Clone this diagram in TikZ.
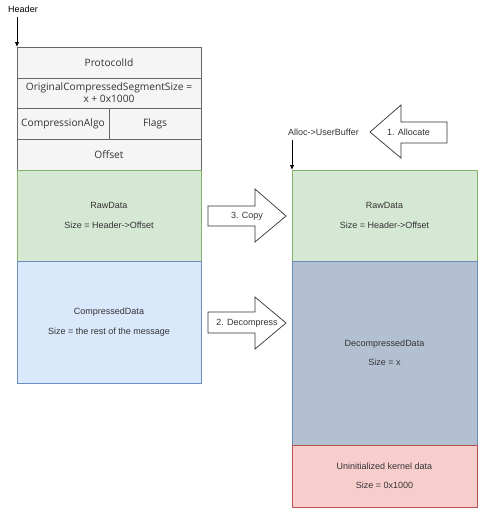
\documentclass[tikz,border=0pt]{standalone}
\usepackage{fontspec}
\setmainfont{Liberation Sans}
\newfontfamily\segoe{Open Sans}
\usetikzlibrary{arrows.meta}
\definecolor{hdrfill}{HTML}{F5F5F5}
\definecolor{hdrline}{HTML}{666666}
\definecolor{grnfill}{HTML}{D5E8D4}
\definecolor{grnline}{HTML}{82B366}
\definecolor{blufill}{HTML}{DAE8FC}
\definecolor{bluline}{HTML}{6C8EBF}
\definecolor{decfill}{HTML}{B3C0D2}
\definecolor{redfill}{HTML}{F8CECC}
\definecolor{redline}{HTML}{B85450}
\definecolor{txt}{HTML}{333333}
\tikzset{
  hdr/.style={draw=hdrline, fill=hdrfill, line width=0.8pt},
  grn/.style={draw=grnline, fill=grnfill, line width=0.8pt},
  blu/.style={draw=bluline, fill=blufill, line width=0.8pt},
  dec/.style={draw=bluline, fill=decfill, line width=0.8pt},
  red/.style={draw=redline, fill=redfill, line width=0.8pt},
  htxt/.style={text=txt, font=\segoe\fontsize{10.2}{12}\selectfont, align=center, inner sep=0pt},
  btxt/.style={text=txt, font=\fontsize{9}{10.5}\selectfont, align=center, inner sep=0pt},
  blockarrow/.style={draw=black!80, fill=white, line width=0.7pt},
  ptr/.style={draw=black, line width=0.8pt, -{Latex[length=5pt,width=4.5pt]}},
}
\begin{document}
\begin{tikzpicture}[x=1pt,y=-1pt]
\useasboundingbox (0,0) rectangle (502,525);
% left header fields
\draw[hdr] (17,47) rectangle (201,78);
\node[htxt] (pid) at (109,62.5) {ProtocolId};
\draw[hdr] (17,78) rectangle (201,108);
\node[htxt] (ocs) at (109,93) {OriginalCompressedSegmentSize =\\x + 0x1000};
\draw[hdr] (17,108) rectangle (109,139);
\node[htxt] (calg) at (63,123.5) {CompressionAlgo};
\draw[hdr] (109,108) rectangle (201,139);
\node[htxt] (flags) at (155,123.5) {Flags};
\draw[hdr] (17,139) rectangle (201,170);
\node[htxt] (off) at (109,154.5) {Offset};
% left data
\draw[grn] (17,170) rectangle (201,261);
\node[btxt] (rawL) at (109,215.5) {RawData\\[9pt]Size = Header->Offset};
\draw[blu] (17,261) rectangle (201,383);
\node[btxt] (compL) at (109,322) {CompressedData\\[9pt]Size = the rest of the message};
% right buffer
\draw[grn] (292,170) rectangle (477,261);
\node[btxt] (rawR) at (384.5,215.5) {RawData\\[9pt]Size = Header->Offset};
\draw[dec] (292,261) rectangle (477,445);
\node[btxt] (decR) at (384.5,353) {DecompressedData\\[9pt]Size = x};
\draw[red] (292,445) rectangle (477,507);
\node[btxt] (uninit) at (384.5,476) {Uninitialized kernel data\\[9pt]Size = 0x1000};
% pointers
\node[text=black, font=\fontsize{9}{10}\selectfont, inner sep=0pt] (hdrlbl) at (23,9) {Header};
\coordinate (hdrtop) at (17,17);
\coordinate (hdrpt) at (17,47);
\draw[ptr] (hdrtop) -- (hdrpt);
\node[btxt] (alloclbl) at (323.5,132) {Alloc->UserBuffer};
\coordinate (ubtop) at (292,140);
\coordinate (ubpt) at (292,170);
\draw[ptr] (ubtop) -- (ubpt);
% block arrows
\draw[blockarrow] (447,122) -- (401,122) -- (401,105) -- (370,132) -- (401,158) -- (401,143) -- (447,143) -- cycle;
\node[btxt] (alloc) at (408.5,132.5) {1. Allocate};
\draw[blockarrow] (208,206) -- (255,206) -- (255,189) -- (286,216) -- (255,242) -- (255,226) -- (208,226) -- cycle;
\node[btxt] (copy) at (247,216) {3. Copy};
\draw[blockarrow] (208,312) -- (255,312) -- (255,297) -- (286,323) -- (255,349) -- (255,333) -- (208,333) -- cycle;
\node[btxt] (decomp) at (247,323) {2. Decompress};
\end{tikzpicture}
\end{document}
